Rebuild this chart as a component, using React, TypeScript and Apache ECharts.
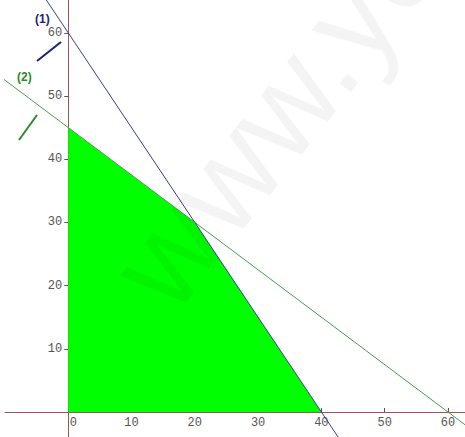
import React, { useEffect, useRef } from "react";
import * as echarts from "echarts";

const xTicks = [0, 10, 20, 30, 40, 50, 60];
const yTicks = [10, 20, 30, 40, 50, 60];
const feasible = [[0, 45], [20, 30], [40, 0]];
const line1 = [[-5, 67.5], [45, -7.5]];
const line2 = [[-12, 54], [64, -3]];

const X_MIN = -10;
const X_MAX = 62.7;
const Y_MIN = -3.96;
const Y_MAX = 65.2;

export default function App() {
  const ref = useRef<HTMLDivElement>(null);
  useEffect(() => {
    const chart = echarts.init(ref.current!, null, { renderer: "svg" });
    const axisColor = "#9c5454";
    const W = 465, H = 437, GL = 5;
    const gridW = W - GL;
    const xOffset = -(H * (0 - Y_MIN)) / (Y_MAX - Y_MIN);
    const yOffset = -(gridW * (0 - X_MIN)) / (X_MAX - X_MIN);
    chart.setOption({
      animation: false,
      backgroundColor: "#ffffff",
      grid: { left: GL, right: 0, top: 0, bottom: 0, containLabel: false, outerBoundsMode: "none" },
      xAxis: {
        type: "value",
        min: X_MIN,
        max: X_MAX,
        position: "bottom",
        offset: xOffset,
        splitLine: { show: false },
        axisLine: { onZero: false, lineStyle: { color: axisColor, width: 1 } },
        axisTick: { inside: true, length: 4, customValues: xTicks, lineStyle: { color: "#555" } },
        axisLabel: {
          customValues: xTicks,
          margin: 5,
          fontFamily: "Liberation Mono",
          fontSize: 12,
          color: "#555",
          formatter: (v: number) => (v === 0 ? "{z|0}" : String(v)),
          rich: { z: { padding: [0, 0, 0, 10], fontFamily: "Liberation Mono", fontSize: 12, color: "#555" } },
        },
      },
      yAxis: {
        type: "value",
        min: Y_MIN,
        max: Y_MAX,
        position: "left",
        offset: yOffset,
        splitLine: { show: false },
        axisLine: { onZero: false, lineStyle: { color: axisColor, width: 1 } },
        axisTick: { inside: false, length: 4, customValues: yTicks, lineStyle: { color: "#555" } },
        axisLabel: {
          customValues: yTicks,
          margin: 6,
          fontFamily: "Liberation Mono",
          fontSize: 12,
          color: "#555",
        },
      },
      series: [
        {
          type: "line",
          data: feasible,
          symbol: "none",
          lineStyle: { width: 0 },
          areaStyle: { color: "#00ff00", opacity: 1, origin: 0 },
          z: 1,
        },
        {
          type: "line",
          data: line1,
          symbol: "none",
          lineStyle: { color: "#3c3c8c", width: 1 },
          z: 3,
        },
        {
          type: "line",
          data: line2,
          symbol: "none",
          lineStyle: { color: "#4a9a4a", width: 1 },
          z: 3,
        },
      ],
      graphic: [
        {
          type: "text",
          x: 190,
          y: 330,
          rotation: (52 * Math.PI) / 180,
          style: {
            text: "www.yo",
            fontSize: 130,
            fontFamily: "Liberation Sans",
            fill: "rgba(0,0,0,0.045)",
            align: "left",
            verticalAlign: "bottom",
          },
          z: 100,
        },
        { type: "text", x: 35, y: 13, style: { text: "(1)", fontSize: 12, fontWeight: "bold", fontFamily: "Liberation Sans", fill: "#1e1e78" } },
        { type: "text", x: 17, y: 71, style: { text: "(2)", fontSize: 12, fontWeight: "bold", fontFamily: "Liberation Sans", fill: "#2a8a2a" } },
        { type: "line", shape: { x1: 37, y1: 61, x2: 61, y2: 42 }, style: { stroke: "#1e1e78", lineWidth: 2 } },
        { type: "line", shape: { x1: 19, y1: 140, x2: 37, y2: 115 }, style: { stroke: "#2a8a2a", lineWidth: 2 } },
      ],
    });
    return () => chart.dispose();
  }, []);
  return <div ref={ref} style={{ position: "absolute", left: 0, top: 0, width: 465, height: 437 }} />;
}
